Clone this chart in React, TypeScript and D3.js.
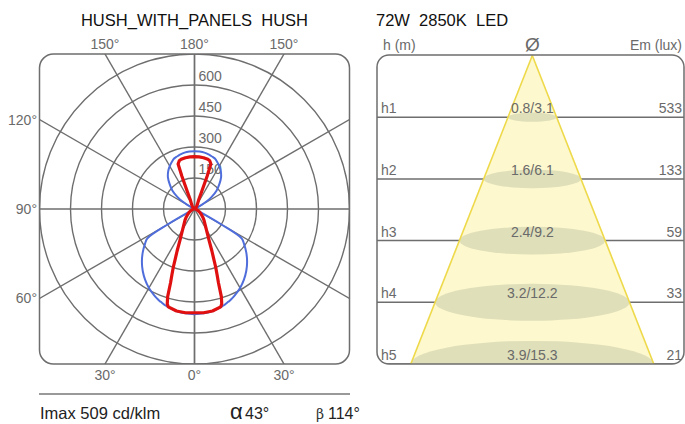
import React from 'react';
import * as d3 from 'd3';

// ---------- data ----------
const gammaAngles = [0, 5, 10, 15, 16, 17, 18, 19, 20, 21, 22.5, 25, 30, 35, 40, 45, 50, 55, 58, 60, 62, 65, 70, 80, 90, 100, 110, 115, 118, 120, 122, 125, 130, 135, 140, 145, 150, 155, 157.5, 159, 160, 162.5, 165, 170, 175, 180];
// C0-C180 plane (red)
const intensityC0 = [502, 504, 501, 490, 478, 445, 375, 335, 300, 262, 220, 166, 115, 88, 72, 58, 45, 35, 30, 27, 24, 20, 15, 8, 4, 3, 3, 3, 4, 5, 5, 6, 8, 10, 14, 20, 30, 45, 90, 170, 232, 245, 249, 252, 253, 253];
// C90-C270 plane (blue)
const intensityC90 = [509, 507, 501, 492, 489, 487, 484, 481, 478, 475, 470, 461, 441, 417, 390, 360, 327, 292, 270, 150, 20, 5, 3, 2, 2, 2, 3, 5, 12, 40, 70, 100, 140, 170, 200, 222, 240, 255, 262, 265, 266, 269, 272, 277, 279, 280];

const ringValues = [150, 300, 450, 600, 750];
const ringLabels = ['150', '300', '450', '600'];
const spokeAngles = [0, 30, 60, 90, 120, 150, 180];
const topAngleLabels = ['150°', '180°', '150°'];
const sideAngleLabels = ['120°', '90°', '60°'];
const bottomAngleLabels = ['30°', '0°', '30°'];

const heights = [1, 2, 3, 4, 5];
const heightLabels = ['h1', 'h2', 'h3', 'h4', 'h5'];
const diameterLabels = ['0.8/3.1', '1.6/6.1', '2.4/9.2', '3.2/12.2', '3.9/15.3'];
const emValues = ['533', '133', '59', '33', '21'];

const leftTitle = 'HUSH_WITH_PANELS  HUSH';
const rightTitle = '72W  2850K  LED';
const imaxValue = 509;
const alphaDeg = 43;
const betaDeg = 114;

// ---------- layout ----------
const W = 685;
const H = 424;
const FONT = 'Liberation Sans, Arial, Helvetica, sans-serif';
const GRID = '#6e6e6e';
const LABEL = '#6a6a6a';

const cx = 194.5;
const cy = 209;
const R = 155;
const box = { x: cx - R, y: cy - R, w: 2 * R, h: 2 * R, rx: 14 };

const rScale = d3.scaleLinear().domain([0, 750]).range([0, R]);
const rad = (d: number) => (d * Math.PI) / 180;

function loop(values: number[]): [number, number][] {
  const pts: [number, number][] = [];
  gammaAngles.forEach((g, i) => pts.push([Math.PI - rad(g), rScale(values[i])]));
  for (let i = gammaAngles.length - 2; i > 0; i--) {
    pts.push([Math.PI + rad(gammaAngles[i]), rScale(values[i])]);
  }
  return pts;
}

const radialSmooth = d3
  .lineRadial<[number, number]>()
  .angle((d) => d[0])
  .radius((d) => d[1])
  .curve(d3.curveCatmullRomClosed.alpha(0.5));

const radialLinear = d3
  .lineRadial<[number, number]>()
  .angle((d) => d[0])
  .radius((d) => d[1])
  .curve(d3.curveLinearClosed);

// cone panel
const rb = { x: 377, y: 55, w: 307, h: 309, rx: 12 };
const coneX = 532.3;
const yScale = d3.scaleLinear().domain([0, 5]).range([rb.y + 0.5, rb.y + rb.h]);
const tanHalf = Math.tan(rad(alphaDeg / 2));
const halfW = (h: number) => (yScale(h) - yScale(0)) * tanHalf;

export default function App() {
  const spokeLen = 400;
  const hwBase = halfW(heights[heights.length - 1]);
  return (
    <svg
      width={W}
      height={H}
      viewBox={`0 0 ${W} ${H}`}
      style={{ position: 'absolute', left: 0, top: 0, background: '#fff' }}
      fontFamily={FONT}
    >
      <defs>
        <clipPath id="polarClip">
          <rect x={box.x} y={box.y} width={box.w} height={box.h} rx={box.rx} />
        </clipPath>
        <clipPath id="coneClip">
          <rect x={rb.x} y={rb.y} width={rb.w} height={rb.h} rx={rb.rx} />
        </clipPath>
      </defs>

      {/* titles */}
      <text x={cx} y={26} textAnchor="middle" fontSize={16.5} fill="#111" style={{ whiteSpace: 'pre' }}>
        {leftTitle}
      </text>
      <text x={376} y={26} textAnchor="start" fontSize={16.5} fill="#111" style={{ whiteSpace: 'pre' }}>
        {rightTitle}
      </text>

      {/* polar grid */}
      <g clipPath="url(#polarClip)" stroke={GRID} strokeWidth={1.4} fill="none">
        {ringValues.map((v) => (
          <circle key={v} cx={cx} cy={cy} r={rScale(v)} />
        ))}
        {spokeAngles.map((a) => (
          <g key={a}>
            <line x1={cx} y1={cy} x2={cx - Math.sin(rad(a)) * spokeLen} y2={cy + Math.cos(rad(a)) * spokeLen} />
            <line x1={cx} y1={cy} x2={cx + Math.sin(rad(a)) * spokeLen} y2={cy + Math.cos(rad(a)) * spokeLen} />
          </g>
        ))}
      </g>
      <rect x={box.x} y={box.y} width={box.w} height={box.h} rx={box.rx} fill="none" stroke={GRID} strokeWidth={1.5} />

      {/* ring labels */}
      {ringLabels.map((l, i) => (
        <text key={l} x={cx + 4} y={cy - rScale(ringValues[i]) - 4} fontSize={14} fill={LABEL}>
          {l}
        </text>
      ))}

      {/* angle labels */}
      {[150, 180, 150].map((a, i) => {
        const x = cx + (i - 1) * R * Math.tan(rad(180 - a));
        return (
          <text key={'t' + i} x={x} y={49} textAnchor="middle" fontSize={14} fill={LABEL}>
            {topAngleLabels[i]}
          </text>
        );
      })}
      {[120, 90, 60].map((a, i) => {
        const y = cy + (R * Math.cos(rad(a))) / Math.sin(rad(a));
        return (
          <text key={'s' + i} x={37} y={y + 5} textAnchor="end" fontSize={14} fill={LABEL}>
            {sideAngleLabels[i]}
          </text>
        );
      })}
      {[30, 0, 30].map((a, i) => {
        const x = cx + (i - 1) * R * Math.tan(rad(a));
        return (
          <text key={'b' + i} x={x} y={380} textAnchor="middle" fontSize={14} fill={LABEL}>
            {bottomAngleLabels[i]}
          </text>
        );
      })}

      {/* curves */}
      <g transform={`translate(${cx},${cy})`} fill="none" strokeLinejoin="round">
        <path d={radialSmooth(loop(intensityC90)) || ''} stroke="#4f6ddb" strokeWidth={2} />
        <path d={radialLinear(loop(intensityC0)) || ''} stroke="#e01010" strokeWidth={3.2} />
      </g>

      {/* bottom info */}
      <line x1={39} y1={394} x2={350} y2={394} stroke="#777" strokeWidth={1.5} />
      <text x={40} y={419} fontSize={16.5} fill="#222">
        {`Imax ${imaxValue} cd/klm`}
      </text>
      <text x={230} y={419} fontSize={22} fill="#222">
        α
      </text>
      <text x={245} y={419} fontSize={16} fill="#222">
        {`${alphaDeg}°`}
      </text>
      <text x={316} y={419} fontSize={14} fill="#333" fontFamily="DejaVu Serif, serif">
        β
      </text>
      <text x={328} y={419} fontSize={16} fill="#222">
        {`${betaDeg}°`}
      </text>

      {/* cone panel header */}
      <text x={383} y={50} fontSize={14} fill={LABEL}>
        h (m)
      </text>
      <text x={coneX} y={51} textAnchor="middle" fontSize={19} fill={LABEL}>
        Ø
      </text>
      <text x={682} y={50} textAnchor="end" fontSize={14} fill={LABEL}>
        Em (lux)
      </text>

      <g clipPath="url(#coneClip)">
        {heights.map((h) => (
          <line key={h} x1={rb.x} x2={rb.x + rb.w} y1={yScale(h)} y2={yScale(h)} stroke={GRID} strokeWidth={1.5} />
        ))}
        <path
          d={`M${coneX},${yScale(0)}L${coneX - hwBase},${yScale(5)}L${coneX + hwBase},${yScale(5)}Z`}
          fill="#fdf8cd"
          stroke="none"
        />
        {heights.map((h) => (
          <ellipse key={h} cx={coneX} cy={yScale(h)} rx={halfW(h)} ry={halfW(h) * 0.19} fill="#c2c6a6" opacity={0.5} />
        ))}
        <line x1={coneX} y1={yScale(0)} x2={coneX - hwBase} y2={yScale(5)} stroke="#eed94a" strokeWidth={1.6} />
        <line x1={coneX} y1={yScale(0)} x2={coneX + hwBase} y2={yScale(5)} stroke="#eed94a" strokeWidth={1.6} />
      </g>
      <rect x={rb.x} y={rb.y} width={rb.w} height={rb.h} rx={rb.rx} fill="none" stroke={GRID} strokeWidth={1.5} />

      {heights.map((h, i) => (
        <g key={h} fontSize={14} fill={LABEL}>
          <text x={381} y={yScale(h) - 4}>
            {heightLabels[i]}
          </text>
          <text x={coneX} y={yScale(h) - 4} textAnchor="middle">
            {diameterLabels[i]}
          </text>
          <text x={682} y={yScale(h) - 4} textAnchor="end">
            {emValues[i]}
          </text>
        </g>
      ))}
    </svg>
  );
}
